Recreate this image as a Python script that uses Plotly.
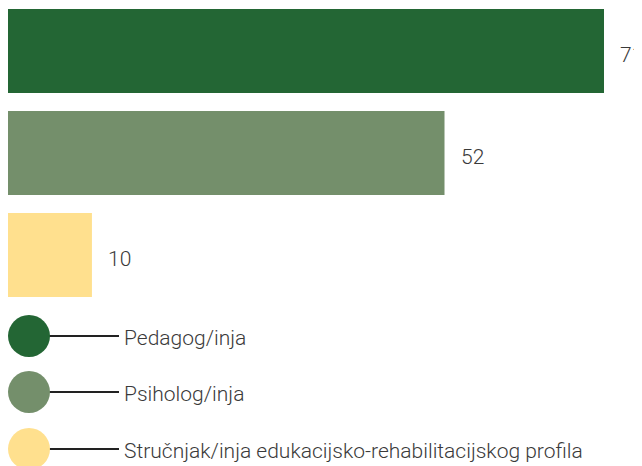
import plotly.graph_objects as go

categories = ["Pedagog/inja", "Psiholog/inja", "Stručnjak/inja edukacijsko-rehabilitacijskog profila"]
values = [71, 52, 10]
colors = ["#236634", "#748F6B", "#FFE08E"]

W, H = 642, 466
OFF = 8  # page body margin
px_per_unit = (604 - OFF) / 71
band = 102
first_center = 51 - OFF

fig = go.Figure()
fig.add_trace(go.Bar(
    y=categories, x=values, orientation="h",
    marker=dict(color=colors, line=dict(width=0)),
    hoverinfo="skip", showlegend=False,
))

for c, v in zip(categories, values):
    fig.add_annotation(x=v, y=c, xref="x", yref="y", text=str(v), showarrow=False,
                       xanchor="left", yanchor="middle", xshift=14, yshift=-4,
                       font=dict(family="Roboto", size=21, color="#3a3a3a", weight=300))

# legend drawn in pixel coordinates on an independent axis pair
leg_y = [336 - OFF, 392 - OFF, 449 - OFF]
leg_cx = 29 - OFF
fig.add_trace(go.Scatter(
    x=[leg_cx] * 3, y=leg_y, mode="markers", xaxis="x2", yaxis="y2",
    marker=dict(size=42, color=colors, line=dict(width=0)),
    cliponaxis=False, hoverinfo="skip", showlegend=False,
))
for yy, c in zip(leg_y, categories):
    fig.add_shape(type="line", xref="x2", yref="y2", x0=49 - OFF, x1=119 - OFF, y0=yy, y1=yy,
                  line=dict(color="#222222", width=2), layer="below")
    fig.add_annotation(x=122 - OFF, y=yy, xref="x2", yref="y2", text=c, showarrow=False,
                       xanchor="left", yanchor="middle", yshift=-2,
                       font=dict(family="Roboto", size=21, color="#3a3a3a", weight=300))

fig.update_layout(
    width=W, height=H, margin=dict(l=0, r=0, t=0, b=0),
    paper_bgcolor="white", plot_bgcolor="rgba(0,0,0,0)",
    bargap=18 / band,
    xaxis=dict(range=[0, W / px_per_unit], domain=[0, 1], visible=False, fixedrange=True),
    yaxis=dict(domain=[0, 1], visible=False,
               range=[(H - first_center) / band, -first_center / band],
               categoryorder="array", categoryarray=categories),
    xaxis2=dict(range=[0, W], domain=[0, 1], visible=False, anchor="y2"),
    yaxis2=dict(range=[H, 0], domain=[0, 1], visible=False, anchor="x2"),
)

fig.write_html("out.html", post_script="document.body.style.overflow='hidden';")
